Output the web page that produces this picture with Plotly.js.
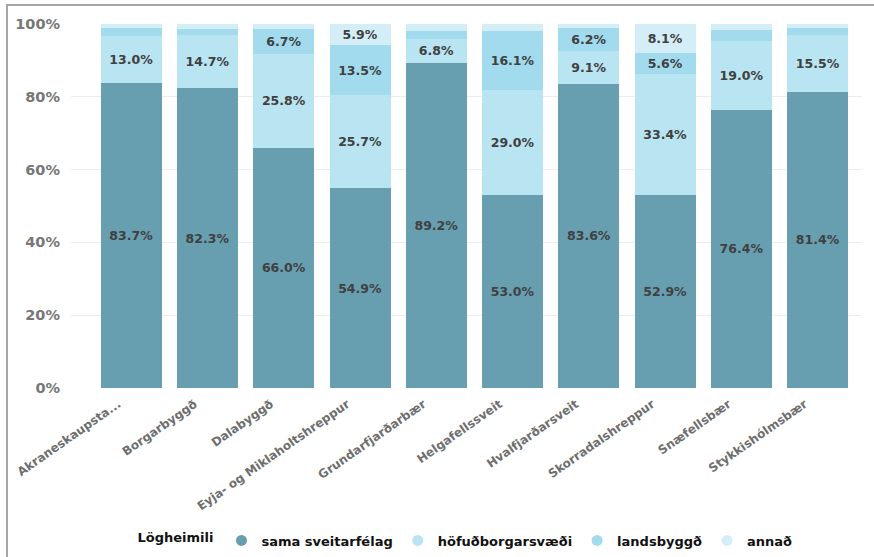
<!DOCTYPE html>
<html>
<head>
<meta charset="utf-8">
<script src="https://cdn.plot.ly/plotly-3.0.1.min.js"></script>
<style>
  html, body { margin: 0; padding: 0; background: #fff; }
  #chart { width: 874px; height: 557px; position: relative; }
  #frame { position: absolute; left: 6px; top: 4px; width: 880px; height: 560px;
           border-top: 2px solid #a6a6a6; border-left: 2px solid #a6a6a6; pointer-events: none; }
</style>
</head>
<body>
<div id="chart"></div>
<div id="frame"></div>
<script>
const categories = ["Akraneskaupstaður", "Borgarbyggð", "Dalabyggð", "Eyja- og Miklaholtshreppur",
  "Grundarfjarðarbær", "Helgafellssveit", "Hvalfjarðarsveit", "Skorradalshreppur", "Snæfellsbær", "Stykkishólmsbær"];
const tickLabels = ["Akraneskaupsta...", "Borgarbyggð", "Dalabyggð", "Eyja- og Miklaholtshreppur",
  "Grundarfjarðarbær", "Helgafellssveit", "Hvalfjarðarsveit", "Skorradalshreppur", "Snæfellsbær", "Stykkishólmsbær"];

const samaSveitarfelag = [83.7, 82.3, 66.0, 54.9, 89.2, 53.0, 83.6, 52.9, 76.4, 81.4];
const hofudborgarsvaedi = [13.0, 14.7, 25.8, 25.7, 6.8, 29.0, 9.1, 33.4, 19.0, 15.5];
const landsbyggd = [2.2, 1.6, 6.7, 13.5, 2.2, 16.1, 6.2, 5.6, 3.0, 2.0];
const annad = [1.1, 1.4, 1.5, 5.9, 1.8, 1.9, 1.1, 8.1, 1.6, 1.1];

const seriesNames = ["sama sveitarfélag", "höfuðborgarsvæði", "landsbyggð", "annað"];
const seriesColors = ["#679fb1", "#b9e4f2", "#a1dbed", "#d3eef7"];
const seriesValues = [samaSveitarfelag, hofudborgarsvaedi, landsbyggd, annad];

const FONT = "DejaVu Sans, Verdana, sans-serif";
const labelFont = { family: FONT, size: 12.5, color: "#404040", weight: "bold" };

const traces = [];
seriesValues.forEach((vals, i) => {
  traces.push({
    type: "bar",
    x: categories,
    y: vals,
    name: seriesNames[i],
    marker: { color: seriesColors[i], line: { width: 0 } },
    text: vals.map(v => v >= 5 ? v.toFixed(1) + "%" : ""),
    texttemplate: "%{text}",
    textposition: "inside",
    insidetextanchor: "middle",
    textangle: 0,
    constraintext: "none",
    textfont: labelFont,
    showlegend: false,
    hoverinfo: "skip"
  });
});
// legend entries with circular markers
seriesValues.forEach((vals, i) => {
  traces.push({
    type: "scatter",
    mode: "markers",
    x: [null], y: [null],
    name: seriesNames[i],
    marker: { color: seriesColors[i], size: 11, symbol: "circle" },
    showlegend: true,
    hoverinfo: "skip"
  });
});

const layout = {
  width: 874, height: 557,
  autosize: false,
  margin: { l: 71, r: 12, t: 24, b: 169, autoexpand: false },
  barmode: "stack",
  bargap: 0.2,
  paper_bgcolor: "#ffffff",
  plot_bgcolor: "#ffffff",
  showlegend: true,
  xaxis: {
    type: "category",
    automargin: false,
    range: [-0.79, 9.58],
    tickmode: "array",
    tickvals: categories,
    ticktext: tickLabels,
    tickangle: -35,
    ticklabelshift: -13,
    ticklabelstandoff: 6,
    tickfont: { family: FONT, size: 12, color: "#6e6e6e", weight: "bold" },
    showgrid: false,
    showline: false,
    zeroline: false,
    ticks: ""
  },
  yaxis: {
    automargin: false,
    range: [0, 100],
    dtick: 20,
    ticksuffix: "%",
    tickfont: { family: FONT, size: 14.5, color: "#777777", weight: "bold" },
    gridcolor: "#ececec",
    gridwidth: 1,
    zeroline: false,
    showline: false,
    ticklabelstandoff: 10
  },
  legend: {
    orientation: "h",
    traceorder: "normal",
    x: 0.5, xanchor: "center",
    y: -0.419, yanchor: "middle",
    itemwidth: 30,
    tracegroupgap: 0,
    title: { text: "Lögheimili", side: "left", font: { family: FONT, size: 13, color: "#111", weight: "bold" } },
    font: { family: FONT, size: 13, color: "#111", weight: "bold" }
  }
};

Plotly.newPlot("chart", traces, layout, { displayModeBar: false, staticPlot: true });
</script>
</body>
</html>
